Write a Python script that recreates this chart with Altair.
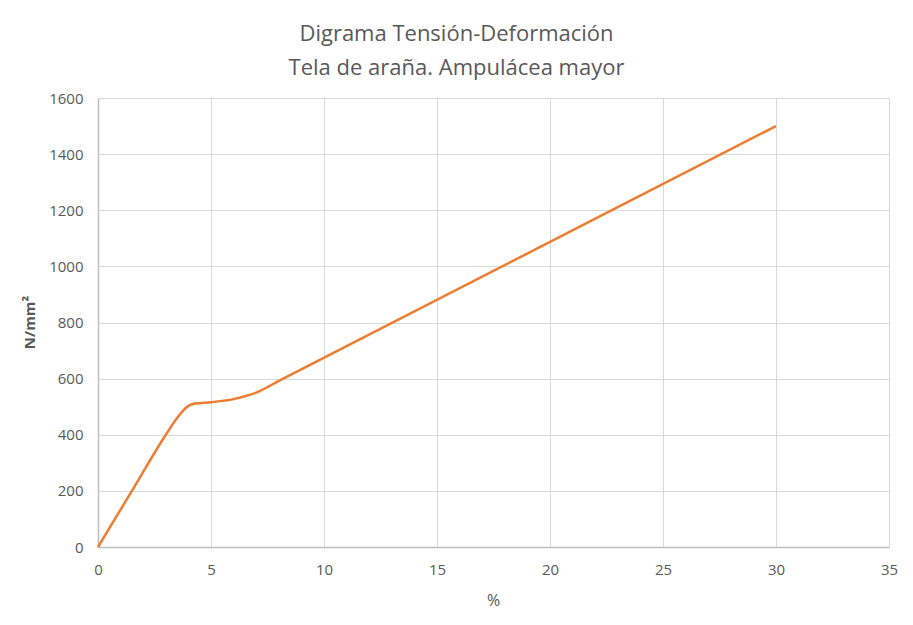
import altair as alt
import pandas as pd

# strain (%) and stress (N/mm²)
strain = [0, 1.5, 3.0, 3.5, 4.0, 4.3, 5.0, 6.0, 6.5, 7.0, 8.0, 30.0]
stress = [0, 200, 400, 460, 503, 511, 516, 527, 537, 550, 592, 1500]

x_ticks = [0, 5, 10, 15, 20, 25, 30, 35]
y_ticks = [0, 200, 400, 600, 800, 1000, 1200, 1400, 1600]

df = pd.DataFrame({"strain": strain, "stress": stress})

grey = "#595959"

chart = (
    alt.Chart(df)
    .mark_line(color="#ED7D31", strokeWidth=2.5, interpolate="monotone")
    .encode(
        x=alt.X(
            "strain:Q",
            title="%",
            scale=alt.Scale(domain=[0, 35], nice=False),
            axis=alt.Axis(
                values=x_ticks,
                format="d",
                ticks=False,
                tickSize=0,
                labelFlush=False,
                labelPadding=15,
                titleX=395,
                titleY=53,
                titleBaseline="middle",
                titleFontWeight="normal",
                titleFontSize=16,
            ),
        ),
        y=alt.Y(
            "stress:Q",
            title="N/mm²",
            scale=alt.Scale(domain=[0, 1600], nice=False),
            axis=alt.Axis(
                values=y_ticks,
                format="d",
                ticks=False,
                tickSize=0,
                labelFlush=False,
                labelPadding=15,
                titleAngle=-90,
                titleX=-69,
                titleY=224,
                titleBaseline="middle",
                titleFontWeight="bold",
            ),
        ),
    )
    .properties(
        width=791,
        height=449,
        autosize=alt.AutoSizeParams(type="none"),
        padding={"left": 90, "top": 90, "right": 16, "bottom": 70},
        title=alt.Title(
            ["Digrama Tensión-Deformación", "Tela de araña. Ampulácea mayor"],
            anchor="middle",
            dx=-37,
            offset=11,
            lineHeight=34,
        ),
    )
    .configure_view(stroke=None)
    .configure_axis(
        labelFont="Open Sans",
        titleFont="Open Sans",
        labelFontSize=15,
        titleFontSize=15,
        labelColor=grey,
        titleColor=grey,
        gridColor="#d9d9d9",
        domainColor="#bfbfbf",
        domainWidth=1.5,
    )
    .configure_title(
        font="Open Sans",
        fontSize=22,
        fontWeight="normal",
        color=grey,
    )
)

chart.save("out.html", embed_options={"renderer": "svg", "actions": False})
